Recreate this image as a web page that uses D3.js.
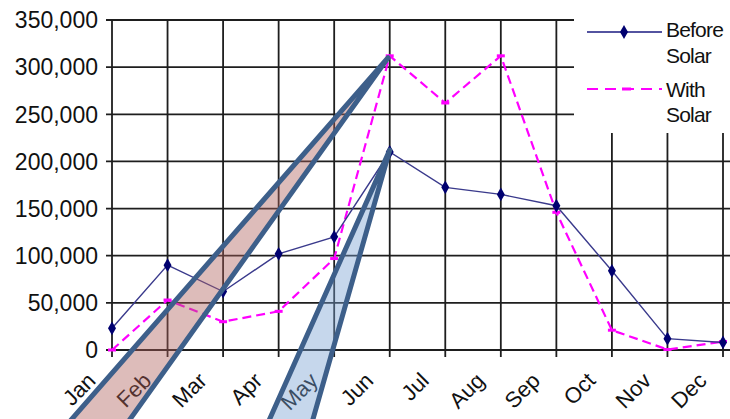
<!DOCTYPE html>
<html><head><meta charset="utf-8">
<script src="https://cdn.jsdelivr.net/npm/d3@7"></script>
<style>
html,body{margin:0;padding:0;background:#fff;overflow:hidden}
svg{display:block}
text{font-family:"Liberation Sans",Arial,sans-serif;fill:#111}
</style></head><body>
<svg id="c" width="730" height="419"></svg>
<script>
const months = ["Jan","Feb","Mar","Apr","May","Jun","Jul","Aug","Sep","Oct","Nov","Dec"];
const beforeSolar = [23000, 90000, 62000, 102000, 120000, 210000, 172500, 165000, 153000, 84000, 12000, 8000];
const withSolar = [0, 53000, 30000, 41000, 97000, 312000, 262000, 312000, 146000, 21000, 500, 9000];
const yTicks = [0, 50000, 100000, 150000, 200000, 250000, 300000, 350000];
const seriesNames = ["Before Solar", "With Solar"];
// callout wedges: tip and two base corners in (month index, value) space
const callouts = [
  {fill:"rgb(175,95,90)", opacity:0.42, pts:[[4.97, 310000],[-1.21,-106000],[-0.07,-106000]]},
  {fill:"rgb(120,160,210)", opacity:0.42, pts:[[5.0, 212000],[2.59,-106000],[3.46,-106000]]}
];

const svg = d3.select("#c");
const x = d3.scalePoint().domain(months).range([112, 723]);
const xi = d3.scaleLinear().domain([0, 11]).range([112, 723]);
const y = d3.scaleLinear().domain([0, 350000]).range([350, 20]);
const fmt = d3.format(",");

// horizontal grid
svg.append("g").selectAll("line").data(yTicks).join("line")
  .attr("x1", 106).attr("x2", 735)
  .attr("y1", d => y(d)).attr("y2", d => y(d))
  .attr("stroke", "#1e1e1e").attr("stroke-width", 1.8);
// vertical grid
svg.append("g").selectAll("line").data(months).join("line")
  .attr("x1", d => x(d)).attr("x2", d => x(d))
  .attr("y1", y(350000)).attr("y2", y(0) + 7)
  .attr("stroke", "#1e1e1e").attr("stroke-width", 1.8);

// y labels
svg.append("g").selectAll("text").data(yTicks).join("text")
  .attr("x", 98).attr("y", d => y(d)).attr("dy", "0.36em")
  .attr("text-anchor", "end").attr("font-size", 23)
  .text(d => fmt(d));

// x labels
svg.append("g").selectAll("text").data(months).join("text")
  .attr("transform", d => `translate(${x(d) - 15},${y(0) + 32}) rotate(-45)`)
  .attr("text-anchor", "end").attr("font-size", 22)
  .text(d => d);

// lines
const line = d3.line().x((d, i) => x(months[i])).y(d => y(d));
svg.append("path").datum(withSolar).attr("d", line)
  .attr("fill", "none").attr("stroke", "#ff00ff").attr("stroke-width", 2.2)
  .attr("stroke-dasharray", "9,5");
svg.append("g").selectAll("rect").data(withSolar).join("rect")
  .attr("x", (d, i) => x(months[i]) - 4).attr("y", d => y(d) - 1.5)
  .attr("width", 8).attr("height", 3).attr("fill", "#ff00ff");

svg.append("path").datum(beforeSolar).attr("d", line)
  .attr("fill", "none").attr("stroke", "#3a3a8c").attr("stroke-width", 1.4);
const diamond = d3.symbol().type(d3.symbolDiamond).size(55);
svg.append("g").selectAll("path").data(beforeSolar).join("path")
  .attr("transform", (d, i) => `translate(${x(months[i])},${y(d)})`)
  .attr("d", diamond).attr("fill", "#000070");

// legend
const lg = svg.append("g");
lg.append("rect").attr("x", 574).attr("y", 0).attr("width", 160).attr("height", 133).attr("fill", "#fff");
lg.append("line").attr("x1", 587).attr("x2", 662).attr("y1", 32).attr("y2", 32)
  .attr("stroke", "#1a1a80").attr("stroke-width", 1.4);
lg.append("path").attr("transform", "translate(624,32)").attr("d", diamond).attr("fill", "#000070");
lg.append("line").attr("x1", 587).attr("x2", 662).attr("y1", 89).attr("y2", 89)
  .attr("stroke", "#ff00ff").attr("stroke-width", 2.2).attr("stroke-dasharray", "11,7");
lg.append("rect").attr("x", 622).attr("y", 87.5).attr("width", 9).attr("height", 3).attr("fill", "#ff00ff");
const legRows = [[seriesNames[0].split(" ")[0], 37],[seriesNames[0].split(" ")[1], 63],
                 [seriesNames[1].split(" ")[0], 97],[seriesNames[1].split(" ")[1], 122]];
lg.selectAll("text").data(legRows).join("text")
  .attr("x", 666).attr("y", d => d[1]).attr("font-size", 21).attr("letter-spacing", "-0.8px")
  .text(d => d[0]);

// callout wedges
svg.append("g").selectAll("path").data(callouts).join("path")
  .attr("d", d => "M" + d.pts.map(p => [xi(p[0]), y(p[1])].join(",")).join("L") + "Z")
  .attr("fill", d => d.fill).attr("fill-opacity", d => d.opacity)
  .attr("stroke", "#3d5f8a").attr("stroke-width", 5).attr("stroke-linejoin", "round");
</script>
</body></html>
